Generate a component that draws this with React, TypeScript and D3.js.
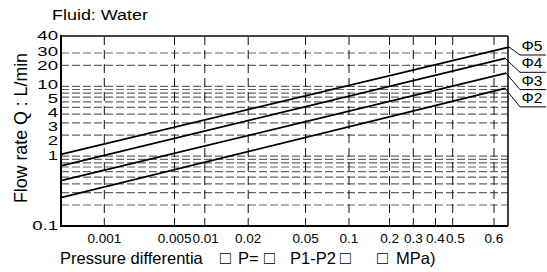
import React, { useEffect, useRef } from 'react';
import * as d3 from 'd3';

// x axis: pressure differential (MPa), log-like but unevenly spaced in the source
const xTicks = [0.001, 0.005, 0.01, 0.02, 0.05, 0.1, 0.2, 0.3, 0.4, 0.5, 0.6];
const xTickLabels = ['0.001', '0.005', '0.01', '0.02', '0.05', '0.1', '0.2', '0.3', '0.4', '0.5', '0.6'];

// y axis: flow rate (L/min)
const yTicks = [0.1, 1, 2, 3, 4, 5, 10, 20, 30, 40];
const yGrid = [0.2, 0.3, 0.4, 0.5, 0.6, 0.7, 0.8, 0.9, 1, 2, 3, 4, 5, 6, 7, 8, 9, 10, 20, 30];

// series (orifice size), each a straight line from start to end
const seriesNames = ['Φ5', 'Φ4', 'Φ3', 'Φ2'];
const seriesStartP = [0.00037, 0.00037, 0.00037, 0.00037];
const seriesEndP = [0.641, 0.63, 0.633, 0.63];
const seriesStartQ = [1.06, 0.723, 0.445, 0.254];
const seriesEndQ = [33.2, 25.2, 15.4, 9.37];

const FONT = '"Liberation Sans", Arial, sans-serif';

const FlowChart = () => {
  const ref = useRef<SVGSVGElement>(null);

  useEffect(() => {
    const svg = d3.select(ref.current);
    svg.selectAll('*').remove();

    const left = 61, right = 508, top = 36, bottom = 226;

    // piecewise log scales to follow the hand-drawn grid
    const x = d3.scaleLog()
      .domain([0.001, 0.01, 0.1, 0.3, 0.5, 0.6])
      .range([104.3, 204.8, 349, 413.3, 452.7, 494]);
    const y = d3.scaleLog()
      .domain([0.1, 30, 40])
      .range([bottom, 53, top]);

    // horizontal grid
    svg.append('g')
      .selectAll('line')
      .data(yGrid)
      .join('line')
        .attr('x1', left)
        .attr('x2', right)
        .attr('y1', d => y(d))
        .attr('y2', d => y(d))
        .attr('stroke', '#666')
        .attr('stroke-width', 1.2)
        .attr('stroke-dasharray', '8,3');

    // vertical grid
    svg.append('g')
      .selectAll('line')
      .data(xTicks)
      .join('line')
        .attr('x1', d => x(d))
        .attr('x2', d => x(d))
        .attr('y1', top)
        .attr('y2', bottom)
        .attr('stroke', '#111')
        .attr('stroke-width', 1)
        .attr('stroke-dasharray', '9,5');

    // frame
    const frame = svg.append('g');
    frame.append('line').attr('x1', left).attr('x2', right).attr('y1', top).attr('y2', top)
      .attr('stroke', '#444').attr('stroke-width', 2);
    frame.append('line').attr('x1', right).attr('x2', right).attr('y1', top).attr('y2', bottom)
      .attr('stroke', '#000').attr('stroke-width', 1.5);
    frame.append('line').attr('x1', left).attr('x2', right).attr('y1', bottom).attr('y2', bottom)
      .attr('stroke', '#000').attr('stroke-width', 2);
    frame.append('line').attr('x1', left).attr('x2', left).attr('y1', top - 1).attr('y2', bottom + 1)
      .attr('stroke', '#000').attr('stroke-width', 2);

    // series lines
    const line = d3.line<[number, number]>()
      .x(d => x(d[0]))
      .y(d => y(d[1]));
    const series = seriesNames.map((name, i) => ({
      name,
      pts: [[seriesStartP[i], seriesStartQ[i]], [seriesEndP[i], seriesEndQ[i]]] as [number, number][],
    }));
    svg.append('g')
      .selectAll('path')
      .data(series)
      .join('path')
        .attr('d', d => line(d.pts))
        .attr('fill', 'none')
        .attr('stroke', '#000')
        .attr('stroke-width', 1.8);

    // leaders + labels
    const shelfX = 520, shelfEnd = 546, shelfTop = 55, shelfStep = 17.3;
    const lab = svg.append('g');
    series.forEach((s, i) => {
      const end = s.pts[1];
      const sy = shelfTop + i * shelfStep;
      lab.append('polyline')
        .attr('points', `${x(end[0])},${y(end[1])} ${shelfX},${sy} ${shelfEnd},${sy}`)
        .attr('fill', 'none')
        .attr('stroke', '#000')
        .attr('stroke-width', 1);
      lab.append('text')
        .attr('x', shelfX + 1.5)
        .attr('y', sy - 4)
        .attr('font-family', FONT)
        .attr('font-size', 15.5)
        .text(s.name);
    });

    // y tick labels, spread apart symmetrically where they would collide
    const gap = 14;
    const yPos = yTicks.map(d => y(d));
    for (let k = 0; k < 200; k++) {
      for (let i = 1; i < yPos.length; i++) {
        const d = yPos[i - 1] - yPos[i];
        if (d < gap) {
          const push = (gap - d) / 2;
          yPos[i - 1] += push;
          yPos[i] -= push;
        }
      }
    }
    svg.append('g')
      .selectAll('text')
      .data(yTicks)
      .join('text')
        .attr('transform', (d, i) => `translate(58,${yPos[i] + 3.5}) scale(1.55,1)`)
        .attr('text-anchor', 'end')
        .attr('font-family', FONT)
        .attr('font-size', 12)
        .text(d => String(d));

    // x tick labels, nudged right where neighbours would touch
    const xl = svg.append('g')
      .selectAll('text')
      .data(xTicks)
      .join('text')
        .attr('y', 243)
        .attr('text-anchor', 'middle')
        .attr('font-family', FONT)
        .attr('font-size', 13.5)
        .text((d, i) => xTickLabels[i]);
    const widths = xl.nodes().map(n => (n as SVGTextElement).getComputedTextLength());
    const xPos = xTicks.map(d => x(d));
    for (let i = 1; i < xPos.length; i++) {
      xPos[i] = Math.max(xPos[i], xPos[i - 1] + (widths[i - 1] + widths[i]) / 2 + 1);
    }
    xl.attr('x', (d, i) => xPos[i]);

    // title
    svg.append('text')
      .attr('x', 52)
      .attr('y', 20)
      .attr('font-family', FONT)
      .attr('font-size', 15.5)
      .attr('textLength', 96)
      .attr('lengthAdjust', 'spacingAndGlyphs')
      .text('Fluid: Water');

    // y axis title
    svg.append('text')
      .attr('transform', 'translate(26.5,128) rotate(-90)')
      .attr('text-anchor', 'middle')
      .attr('font-family', FONT)
      .attr('font-size', 17.5)
      .attr('textLength', 150)
      .attr('lengthAdjust', 'spacingAndGlyphs')
      .text('Flow rate Q : L/min');

    // x axis title (boxes are missing glyphs in the source)
    const xt = svg.append('text')
      .attr('y', 263.5)
      .attr('font-family', FONT)
      .attr('font-size', 16.5);
    const parts: [string, number, number][] = [
      ['Pressure differentia', 60, 16.5],
      ['□', 220, 18],
      ['P=', 238, 16.5],
      ['□', 264, 18],
      ['P1-P2', 290, 16.5],
      ['□', 340, 18],
      ['□', 377, 18],
      ['MPa)', 396, 16.5],
    ];
    parts.forEach(([t, px, fs]) => {
      xt.append('tspan').attr('x', px).attr('font-size', fs).text(t);
    });
  }, []);

  return (
    <svg
      ref={ref}
      width={547}
      height={272}
      style={{ position: 'absolute', left: 0, top: 0, background: '#fff' }}
    />
  );
};

export default function App() {
  return <FlowChart />;
}
